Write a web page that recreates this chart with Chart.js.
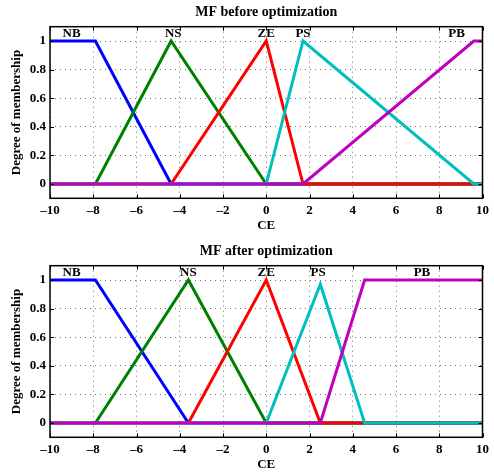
<!DOCTYPE html>
<html>
<head>
<meta charset="utf-8">
<script src="https://cdn.jsdelivr.net/npm/chart.js@4.4.1/dist/chart.umd.min.js"></script>
<style>
  html, body { margin: 0; padding: 0; background: #fff; overflow: hidden; }
  canvas { display: block; }
  #after { margin-top: 2px; }
</style>
</head>
<body>
<canvas id="before" width="494" height="237"></canvas>
<canvas id="after" width="494" height="237"></canvas>
<script>
const X_TICKS = [-10, -8, -6, -4, -2, 0, 2, 4, 6, 8, 10];
const Y_TICKS = [0, 0.2, 0.4, 0.6, 0.8, 1];
const MF_NAMES = ['NB', 'NS', 'ZE', 'PS', 'PB'];

// membership function vertices, [x, degree]
const BEFORE_NB = [[-10, 1], [-7.9, 1], [-4.4, 0], [10, 0]];
const BEFORE_NS = [[-10, 0], [-7.9, 0], [-4.4, 1], [0, 0], [10, 0]];
const BEFORE_ZE = [[-10, 0], [-4.4, 0], [0, 1], [1.7, 0], [10, 0]];
const BEFORE_PS = [[-10, 0], [0, 0], [1.7, 1], [9.6, 0], [10, 0]];
const BEFORE_PB = [[-10, 0], [1.7, 0], [9.6, 1], [10, 1]];
const BEFORE_LABEL_X = [-9.0, -4.3, 0, 1.7, 8.8];

const AFTER_NB = [[-10, 1], [-7.9, 1], [-3.6, 0], [10, 0]];
const AFTER_NS = [[-10, 0], [-7.9, 0], [-3.6, 1], [0, 0], [10, 0]];
const AFTER_ZE = [[-10, 0], [-3.6, 0], [0, 1], [2.5, 0], [10, 0]];
const AFTER_PS = [[-10, 0], [0, 0], [2.5, 0.97], [4.55, 0], [10, 0]];
const AFTER_PB = [[-10, 0], [2.5, 0], [4.55, 1], [10, 1]];
const AFTER_LABEL_X = [-9.0, -3.6, 0, 2.4, 7.2];

const LABEL_Y = 1.05;

const COLORS = ['#0000FF', '#008000', '#FF0000', '#00BFBF', '#BF00BF'];
const SERIF = "'Liberation Serif', 'Times New Roman', serif";
const FONT_BOLD = { family: SERIF, size: 13, weight: 'bold' };

// box around the axes, inward tick marks and the MF names
const framePlugin = {
  id: 'frame',
  afterDatasetsDraw(chart, _args, opts) {
    const { ctx, chartArea: a, scales } = chart;
    ctx.save();
    ctx.strokeStyle = '#000';
    ctx.lineWidth = 1;
    ctx.beginPath();
    X_TICKS.forEach((v) => {
      const px = Math.round(scales.x.getPixelForValue(v)) + 0.5;
      ctx.moveTo(px, a.bottom); ctx.lineTo(px, a.bottom - 4);
      ctx.moveTo(px, a.top); ctx.lineTo(px, a.top + 4);
    });
    Y_TICKS.forEach((v) => {
      const py = Math.round(scales.y.getPixelForValue(v)) + 0.5;
      ctx.moveTo(a.left, py); ctx.lineTo(a.left + 4, py);
      ctx.moveTo(a.right, py); ctx.lineTo(a.right - 4, py);
    });
    ctx.stroke();
    ctx.lineWidth = 1.5;
    ctx.strokeRect(a.left, a.top, a.right - a.left, a.bottom - a.top);

    ctx.fillStyle = '#000';
    ctx.font = `bold 13px ${SERIF}`;
    ctx.textAlign = 'center';
    ctx.textBaseline = 'middle';
    MF_NAMES.forEach((name, i) => {
      ctx.fillText(name, scales.x.getPixelForValue(opts.labelX[i]), scales.y.getPixelForValue(LABEL_Y));
    });
    ctx.restore();
  }
};

function fmt(v) {
  return v < 0 ? '\u2013' + Math.abs(v) : String(v);
}

function makeChart(id, title, series, labelX) {
  return new Chart(document.getElementById(id), {
    type: 'scatter',
    data: {
      datasets: series.map((pts, i) => ({
        label: MF_NAMES[i],
        data: pts.map(([x, y]) => ({ x, y })),
        showLine: true,
        borderColor: COLORS[i],
        borderWidth: 3,
        pointRadius: 0,
        fill: false,
        order: series.length - i
      }))
    },
    options: {
      responsive: false,
      animation: false,
      layout: { padding: { left: 0, right: 11, top: 0, bottom: 0 } },
      plugins: {
        legend: { display: false },
        tooltip: { enabled: false },
        title: {
          display: true,
          text: title,
          fullSize: false,
          color: '#000',
          font: { family: SERIF, size: 14, weight: 'bold' },
          padding: { top: 3.5, bottom: 6.4 }
        },
        frame: { labelX }
      },
      scales: {
        x: {
          type: 'linear',
          min: -10,
          max: 10,
          afterBuildTicks: (s) => { s.ticks = X_TICKS.map((value) => ({ value })); },
          afterFit: (s) => { s.height = 38.7; },
          ticks: { color: '#000', font: FONT_BOLD, padding: 5, maxRotation: 0, callback: fmt },
          grid: { color: 'rgba(0,0,0,0.55)', lineWidth: 1, drawTicks: false },
          border: { display: false, dash: [1, 4] },
          title: { display: true, text: 'CE', color: '#000', font: FONT_BOLD, padding: { top: 0, bottom: 3.7 } }
        },
        y: {
          type: 'linear',
          min: -0.1,
          max: 1.1,
          afterBuildTicks: (s) => { s.ticks = Y_TICKS.map((value) => ({ value })); },
          afterFit: (s) => { s.width = 50; },
          ticks: { color: '#000', font: FONT_BOLD, padding: 4, callback: (v) => String(v) },
          grid: { color: 'rgba(0,0,0,0.55)', lineWidth: 1, drawTicks: false },
          border: { display: false, dash: [1, 4] },
          title: { display: true, text: 'Degree of membership', color: '#000', font: FONT_BOLD, padding: { top: 9.2, bottom: 0 } }
        }
      }
    },
    plugins: [framePlugin]
  });
}

makeChart('before', 'MF before optimization',
  [BEFORE_NB, BEFORE_NS, BEFORE_ZE, BEFORE_PS, BEFORE_PB], BEFORE_LABEL_X);
makeChart('after', 'MF after optimization',
  [AFTER_NB, AFTER_NS, AFTER_ZE, AFTER_PS, AFTER_PB], AFTER_LABEL_X);
</script>
</body>
</html>
